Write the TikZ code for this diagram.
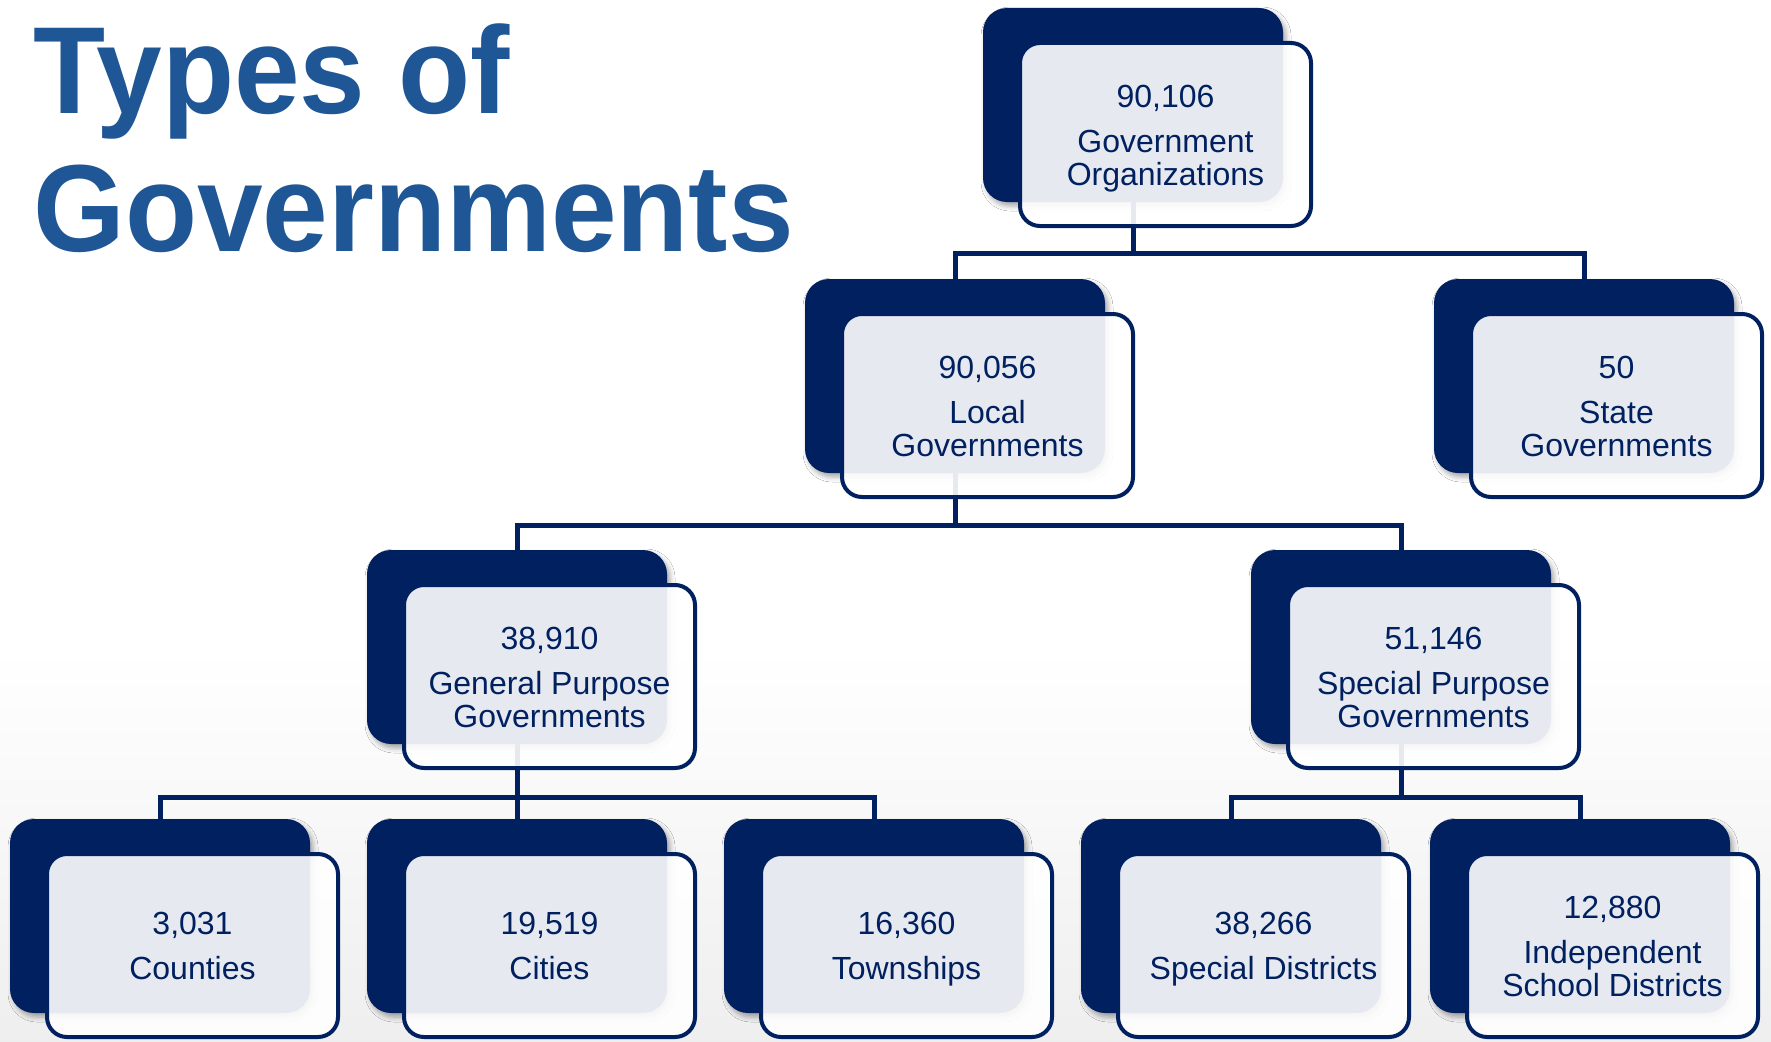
\documentclass[tikz,border=0pt]{standalone}
\usepackage{fontspec}
\setmainfont{Liberation Sans}
\usetikzlibrary{shadows.blur}
\definecolor{navy}{RGB}{0,32,96}
\definecolor{titleblue}{RGB}{31,86,150}
\newcommand\TopStrut{\rule{0pt}{31pt}}
\newcommand\BotStrut{\rule[-8pt]{0pt}{8pt}}
\begin{document}
\begin{tikzpicture}[x=1pt,y=-1pt,
  darkbox/.style={fill=navy, draw=none, rounded corners=24pt, minimum width=300pt,
    minimum height=194pt, inner sep=0pt,
    blur shadow={shadow xshift=3pt, shadow yshift=-4pt, shadow blur radius=5pt, shadow opacity=35}},
  labelbox/.style={draw=navy, line width=4pt, fill=white, fill opacity=0.9, text opacity=1,
    text=navy, rounded corners=20pt, minimum width=291pt, minimum height=183pt,
    inner sep=0pt, align=center, font=\fontsize{32}{33}\selectfont},
  conn/.style={draw=navy, line width=5pt},
  titletext/.style={anchor=base west, text=titleblue, inner sep=0pt,
    font=\fontsize{118}{130}\selectfont\bfseries}
]
\useasboundingbox (0,0) rectangle (1771,1041);
\fill[white] (0,0) rectangle (1771,1041);
\shade[top color=white, bottom color=gray!13] (0,650) rectangle (1771,1041);

% title
\node[titletext] (t1) at (33,113) {\scalebox{1}[1.05]{Types of}};
\node[titletext] (t2) at (33,251) {\scalebox{1}[1.05]{Governments}};

% dark back boxes
\node[darkbox] (d-top)   at (1133,105) {};
\node[darkbox] (d-local) at (955,376) {};
\node[darkbox] (d-state) at (1584,376) {};
\node[darkbox] (d-gen)   at (517,647) {};
\node[darkbox] (d-spec)  at (1401,647) {};
\node[darkbox] (d-cnt)   at (160,916) {};
\node[darkbox] (d-city)  at (517,916) {};
\node[darkbox] (d-town)  at (874,916) {};
\node[darkbox] (d-sdist) at (1231,916) {};
\node[darkbox] (d-isd)   at (1580,916) {};

% connector levels
\coordinate (h1) at (0,253);
\coordinate (h2) at (0,525);
\coordinate (h3) at (0,797);

\draw[conn] (d-top.south) -- (d-top.south |- h1) -| (d-local.north);
\draw[conn] (d-top.south |- h1) -| (d-state.north);
\draw[conn] (d-local.south) -- (d-local.south |- h2) -| (d-gen.north);
\draw[conn] (d-local.south |- h2) -| (d-spec.north);
\draw[conn] (d-gen.south) -- (d-gen.south |- h3) -| (d-cnt.north);
\draw[conn] (d-gen.south |- h3) -| (d-town.north);
\draw[conn] (d-gen.south) -- (d-city.north);
\draw[conn] (d-spec.south) -- (d-spec.south |- h3) -| (d-sdist.north);
\draw[conn] (d-spec.south |- h3) -| (d-isd.north);

% front label boxes
\node[labelbox] (b-top)   at (1165.5,134.5) {\TopStrut 90,106\\[12pt]Government\\Organizations\BotStrut};
\node[labelbox] (b-local) at (987.5,405.5) {\TopStrut 90,056\\[12pt]Local\\Governments\BotStrut};
\node[labelbox] (b-state) at (1616.5,405.5) {\TopStrut 50\\[12pt]State\\Governments\BotStrut};
\node[labelbox] (b-gen)   at (549.5,676.5) {\TopStrut 38,910\\[12pt]General Purpose\\Governments\BotStrut};
\node[labelbox] (b-spec)  at (1433.5,676.5) {\TopStrut 51,146\\[12pt]Special Purpose\\Governments\BotStrut};
\node[labelbox] (b-cnt)   at (192.5,945.5) {\TopStrut 3,031\\[12pt]Counties\BotStrut};
\node[labelbox] (b-city)  at (549.5,945.5) {\TopStrut 19,519\\[12pt]Cities\BotStrut};
\node[labelbox] (b-town)  at (906.5,945.5) {\TopStrut 16,360\\[12pt]Townships\BotStrut};
\node[labelbox] (b-sdist) at (1263.5,945.5) {\TopStrut 38,266\\[12pt]Special Districts\BotStrut};
\node[labelbox] (b-isd)   at (1612.5,945.5) {\TopStrut 12,880\\[12pt]Independent\\School Districts\BotStrut};
\end{tikzpicture}
\end{document}
